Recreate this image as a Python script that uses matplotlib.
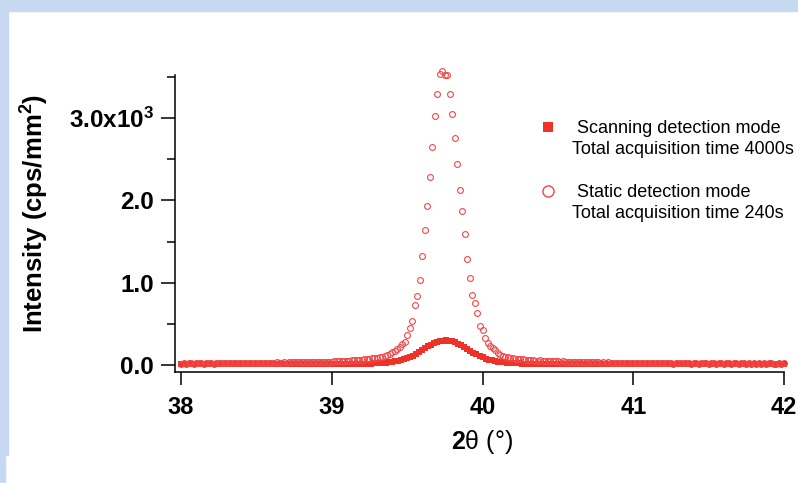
import numpy as np
import matplotlib
matplotlib.use('Agg')
import matplotlib.pyplot as plt
from matplotlib.patches import Rectangle
from matplotlib.lines import Line2D
from matplotlib.ticker import MultipleLocator, FixedLocator, FixedFormatter

plt.rcParams['font.family'] = ['Liberation Sans', 'DejaVu Sans']
plt.rcParams['mathtext.fontset'] = 'custom'
plt.rcParams['mathtext.rm'] = 'Liberation Sans'
plt.rcParams['mathtext.bf'] = 'Liberation Sans:bold'
plt.rcParams['mathtext.it'] = 'Liberation Sans:italic'

# scanning mode, 2theta step 0.02 deg starting at 38
scan_start, scan_step = 38.0, 0.02
scan_counts = [
    8, 9, 8, 9, 8, 9, 9, 8, 9, 9,
    9, 9, 10, 9, 9, 10, 9, 10, 10, 9,
    10, 10, 10, 10, 11, 10, 10, 11, 10, 11,
    11, 11, 11, 11, 11, 12, 11, 11, 12, 11,
    12, 12, 12, 12, 12, 12, 13, 12, 12, 13,
    13, 13, 13, 13, 13, 13, 13, 13, 14, 14,
    # peak region 39.20 - 40.32
    14, 15, 16, 17, 19, 21, 23, 26, 29, 33,
    38, 44, 51, 59, 69, 82, 97, 115, 135, 157,
    180, 203, 225, 245, 262, 276, 287, 294, 298, 294,
    287, 275, 259, 240, 218, 195, 172, 149, 128, 109,
    92, 78, 66, 56, 48, 42, 37, 33, 29, 26,
    23, 21, 19, 17, 16, 15, 14,
    # tail
    14, 13, 13, 13, 13, 13, 13, 13, 12, 13,
    12, 12, 12, 12, 12, 12, 12, 11, 12, 11,
    11, 11, 11, 11, 11, 11, 10, 11, 10, 11,
    10, 10, 10, 10, 10, 10, 10, 9, 10, 10,
    9, 10, 9, 9, 9, 10, 9, 9, 9, 9,
    9, 9, 8, 9, 9, 8, 9, 8, 9, 8,
    8, 9, 8, 8, 8, 8, 8, 9, 8, 8,
    8, 8, 8, 8, 7, 8, 8, 8, 8, 7,
    8, 8, 7, 8,
]

# static mode, step 1/60 deg starting at 38
static_start, static_step = 38.0, 1.0 / 60
static_counts = [
    18, 22, 15, 20, 24, 17, 21, 19, 25, 16,
    22, 20, 26, 18, 23, 21, 19, 27, 22, 24,
    20, 25, 23, 28, 21, 26, 24, 22, 29, 25,
    26, 28, 25, 29, 27, 30, 28, 26, 31, 29,
    30, 32, 29, 33, 31, 34, 32, 35, 33, 36,
    33, 36, 34, 37, 35, 38, 40, 37, 41, 39,
    42, 45, 44, 48, 47, 51, 50, 54, 55, 58,
    60, 62, 66, 70, 73, 77, 80, 84, 88, 92,
    97, 108, 120, 134, 152, 172, 194, 222, 251, 283,
    368, 453, 538, 725, 842, 1033, 1324, 1644, 1936, 2288,
    2645, 3026, 3289, 3540, 3572, 3520, 3520, 3289, 3053, 2762,
    2439, 2130, 1868, 1592, 1288, 1057, 847, 750, 628, 478,
    425, 324, 271, 235, 210, 182, 150, 125, 110, 98,
    92, 86, 81, 77, 73, 70, 67, 63, 61, 58,
    56, 54, 52, 55, 50, 48, 51, 46, 47, 44,
    45, 42, 44, 40, 41, 38, 40, 37, 39, 35,
    37, 34, 36, 33, 35, 31, 34, 30, 32, 29,
    31, 28, 30, 27, 29, 26, 28, 25, 27, 24,
    26, 23, 27, 22, 25, 24, 21, 26, 23, 20,
    24, 22, 19, 25, 21, 23, 18, 22, 20, 24,
    19, 21, 23, 18, 20, 22, 17, 21, 19, 23,
    18, 20, 22, 17, 21, 19, 16, 20, 22, 18,
    19, 21, 17, 19, 20, 16, 22, 18, 19, 17,
    20, 18, 21, 16, 19, 20, 17, 18, 21, 16,
    19,
]

legend_lines = [' Scanning detection mode', 'Total acquisition time 4000s', ' ',
                ' Static detection mode', 'Total acquisition time 240s']
ytick_vals = [0, 1000, 2000, 3000]
ytick_text = ['0.0', '1.0', '2.0', r'3.0x10$^\mathbf{3}$']
xtick_vals = [38, 39, 40, 41, 42]

scan_x = scan_start + scan_step * np.arange(len(scan_counts))
static_x = static_start + static_step * np.arange(len(static_counts))

red = '#ee3129'
circ = '#f04646'

W, H = 798, 483
fig = plt.figure(figsize=(W / 100, H / 100), dpi=100)
# light blue frame bits
fig.patches.append(Rectangle((0, 1 - 11 / H), 1, 11 / H, transform=fig.transFigure,
                             color='#c6d9f0', zorder=0))
fig.patches.append(Rectangle((0, 28 / H), 8 / W, 1, transform=fig.transFigure,
                             color='#c6d9f0', zorder=0))
fig.patches.append(Rectangle((0, 0), 5 / W, 30 / H, transform=fig.transFigure,
                             color='#c6d9f0', zorder=0))

ax = fig.add_axes([175 / W, 111 / H, 609 / W, 297 / H])
ax.plot(scan_x, scan_counts, 's', color=red, ms=4.4, mew=0, clip_on=False, zorder=2)
ax.plot(static_x, static_counts, 'o', mfc='none', mec=circ, ms=4.2, mew=0.8,
        clip_on=False, zorder=3)

ax.set_xlim(37.96, 42.0)
ax.set_ylim(-85, 3524)
for s in ['top', 'right']:
    ax.spines[s].set_visible(False)
for s in ['left', 'bottom']:
    ax.spines[s].set_linewidth(1.1)

ax.xaxis.set_major_locator(FixedLocator(xtick_vals))
ax.yaxis.set_major_locator(FixedLocator(ytick_vals))
ax.yaxis.set_major_formatter(FixedFormatter(ytick_text))
ax.yaxis.set_minor_locator(MultipleLocator(500))
ax.tick_params(axis='both', which='major', direction='out', width=1.1)
ax.tick_params(axis='y', which='major', length=10, pad=5, labelsize=17.5)
ax.tick_params(axis='y', which='minor', length=6, width=1.1)
ax.tick_params(axis='x', which='major', length=9.5, pad=8, labelsize=17)
for lab in ax.get_xticklabels() + ax.get_yticklabels():
    lab.set_fontweight('bold')

ax.set_ylabel('Intensity (cps/mm$^\\mathbf{2}$)', fontsize=18.5, fontweight='bold')
ax.yaxis.set_label_coords(-0.203, 0.535)
ax.set_xlabel(r'$\mathbf{2}$θ (°)', fontsize=18)
ax.xaxis.set_label_coords(0.504, -0.19)

blank = Line2D([], [], ls='none')
handles = [Line2D([], [], ls='none', marker='s', color=red, ms=7, mew=0),
           blank, blank,
           Line2D([], [], ls='none', marker='o', mfc='none', mec=circ, ms=8, mew=1.0),
           blank]
ax.legend(handles, legend_lines, loc='upper left',
          bbox_to_anchor=(539 / W, 1 - 120 / H), bbox_transform=fig.transFigure,
          frameon=False, fontsize=13, borderpad=0, handlelength=1.0,
          handletextpad=0.8, labelspacing=0.24, borderaxespad=0)

fig.savefig('out.png', dpi=100)
